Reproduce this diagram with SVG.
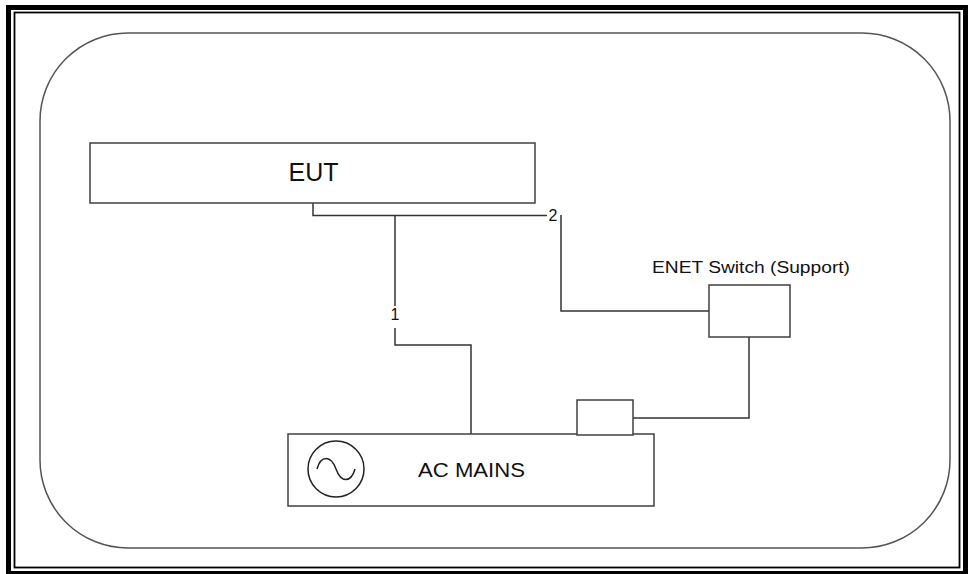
<svg xmlns="http://www.w3.org/2000/svg" width="971" height="574" viewBox="0 0 971 574">
<style>
.box{fill:#fff;stroke:#404040;stroke-width:1.5}
.wire{fill:none;stroke:#333;stroke-width:1.5}
.t{font-family:"Liberation Sans",Arial,sans-serif;fill:#111}
</style>
<rect width="971" height="574" fill="#fff"/>
<g id="frame">
<rect x="8.5" y="7.5" width="957" height="566" fill="none" stroke="#000" stroke-width="5"/>
<rect x="14.5" y="12.5" width="945" height="555" fill="none" stroke="#000" stroke-width="1.8"/>
<rect x="40" y="33" width="910" height="515" rx="88" ry="88" fill="none" stroke="#555" stroke-width="1.5"/>
</g>
<g id="connectors">
<path class="wire" d="M313 203 V215.5 H397" stroke-width="2.5"/>
<path class="wire" d="M397 215.5 H547"/>
<path class="wire" d="M395 215.5 V306"/>
<path class="wire" d="M395 328 V345 H471 V434"/>
<path class="wire" d="M561 215 V311 H709"/>
<path class="wire" d="M749 337 V418 H633"/>
</g>
<g id="eut">
<rect class="box" x="90" y="143" width="445" height="60"/>
<text class="t" x="313.5" y="181" font-size="25" text-anchor="middle">EUT</text>
</g>
<g id="label1"><text class="t" x="395" y="320" font-size="16" text-anchor="middle">1</text></g>
<g id="label2"><text class="t" x="553" y="221" font-size="16" text-anchor="middle">2</text></g>
<g id="enet-switch">
<text class="t" x="652" y="273" font-size="16" textLength="198" lengthAdjust="spacingAndGlyphs">ENET Switch (Support)</text>
<rect class="box" x="709" y="285" width="81" height="52"/>
</g>
<g id="ac-mains">
<rect class="box" x="288" y="434" width="366" height="72"/>
<circle cx="336" cy="469" r="28" fill="none" stroke="#222" stroke-width="1.5"/>
<path d="M317 469 C321 455 331 455 336 469 C341 483 351 483 355 469" fill="none" stroke="#222" stroke-width="1.5"/>
<text class="t" x="418" y="477" font-size="20" textLength="107" lengthAdjust="spacingAndGlyphs">AC MAINS</text>
</g>
<g id="outlet">
<rect class="box" x="577" y="400" width="56" height="35"/>
</g>
</svg>
